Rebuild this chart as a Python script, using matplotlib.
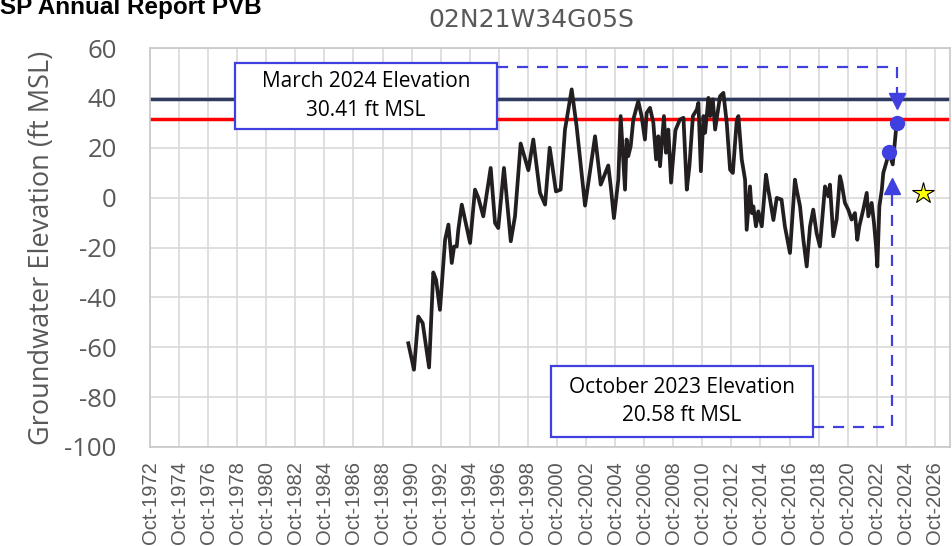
import datetime as dt
import matplotlib
matplotlib.use("Agg")
import matplotlib.pyplot as plt
import matplotlib.dates as mdates
from matplotlib.patches import Rectangle

plt.rcParams["axes.unicode_minus"] = False

# groundwater elevation (decimal year, ft MSL)
years = [1990.52, 1990.91, 1991.21, 1991.51, 1991.95, 1992.24, 1992.43, 1992.70,
         1993.05, 1993.28, 1993.51, 1993.67, 1993.85, 1993.96, 1994.20, 1994.77,
         1995.11, 1995.34, 1995.68, 1996.19, 1996.49, 1996.71, 1997.10, 1997.57,
         1997.86, 1998.25, 1998.78, 1999.12, 1999.58, 1999.93, 2000.25, 2000.68,
         2001.00, 2001.30, 2001.76, 2002.10, 2002.68, 2003.37, 2003.76, 2003.99,
         2004.28, 2004.45, 2004.67, 2004.97, 2005.13, 2005.43, 2005.54, 2005.65,
         2005.82, 2006.00, 2006.34, 2006.57, 2006.80, 2006.92, 2007.15, 2007.38,
         2007.57, 2007.72, 2007.84, 2008.11, 2008.25, 2008.41, 2008.60, 2008.90,
         2009.20, 2009.45, 2009.68, 2009.86, 2010.10, 2010.37, 2010.48, 2010.65,
         2010.83, 2010.94, 2011.17, 2011.29, 2011.47, 2011.63, 2011.97, 2012.20,
         2012.43, 2012.66, 2012.85, 2013.12, 2013.23, 2013.46, 2013.69, 2013.80,
         2014.03, 2014.15, 2014.26, 2014.44, 2014.60, 2014.84, 2015.13, 2015.29,
         2015.41, 2015.64, 2015.87, 2016.20, 2016.43, 2016.78, 2017.12, 2017.24,
         2017.47, 2017.70, 2017.93, 2018.16, 2018.38, 2018.61, 2018.84, 2019.19,
         2019.42, 2019.53, 2019.76, 2019.99, 2020.22, 2020.33, 2020.56, 2020.79,
         2021.02, 2021.25, 2021.41, 2021.55, 2021.82, 2022.06, 2022.17, 2022.40,
         2022.56, 2022.70, 2022.79, 2022.93, 2023.10, 2023.20, 2023.40, 2023.60,
         2023.85, 2024.12]
elev = [-58.4, -69.0, -47.7, -50.3, -68.1, -30.0, -32.9, -45.0,
        -16.9, -10.8, -26.2, -19.6, -19.6, -12.9, -2.8, -18.2,
        3.2, -0.1, -7.5, 11.9, -10.2, -12.2, 11.9, -17.5,
        -7.5, 21.7, 11.0, 23.3, 1.9, -2.8, 20.0, 2.5,
        3.2, 27.3, 43.4, 28.6, -3.2, 24.6, 5.2, 8.6,
        12.9, 4.5, -8.2, 7.2, 32.7, 3.2, 23.3, 16.6,
        20.6, 31.3, 38.7, 32.7, 23.3, 34.0, 36.0, 30.0,
        15.3, 24.6, 12.6, 32.7, 18.0, 27.3, 6.0, 27.0,
        31.3, 32.0, 3.2, 12.6, 32.7, 35.3, 38.0, 10.6,
        32.7, 26.0, 40.0, 32.7, 39.4, 27.3, 40.7, 42.0,
        30.0, 11.2, 9.9, 31.3, 32.7, 15.3, 7.2, -12.9,
        4.5, -6.2, -3.5, -11.5, -5.5, -11.5, 9.2, 3.2,
        -0.8, -9.0, -0.1, -0.8, -11.5, -22.2, 7.2, 3.2,
        -3.5, -16.9, -27.6, -11.5, -4.8, -14.2, -19.6, 4.5,
        0.5, 5.2, -15.5, -8.8, 8.6, 5.9, -2.1, -4.8,
        -8.8, -6.2, -16.9, -11.5, -4.8, 1.9, -7.5, -2.1,
        -10.2, -19.6, -27.6, -3.5, 3.2, 9.9, 13.9, 18.2,
        13.3, 30.0]

# highlighted measurements (Oct 2023, Mar 2024)
pt_years = [2023.60, 2024.12]
pt_elev = [18.2, 30.0]

# thresholds
upper_level = 39.4
lower_level = 31.6

# star marker
star_year = 2025.93
star_elev = 1.9

# annotation leader lines (decimal year, elevation)
top_leader_x = [1996.62, 2024.12, 2024.12]
top_leader_y = [52.2, 52.2, 42.0]
top_arrow = (2024.12, 38.8)
bot_leader_x = [2018.36, 2023.82, 2023.82]
bot_leader_y = [-92.0, -92.0, 2.0]
bot_arrow = (2023.82, 4.8)

tick_years = list(range(1972, 2027, 2))


def to_date(y):
    yr = int(y)
    return dt.datetime(yr, 1, 1) + dt.timedelta(days=(y - yr) * 365.25)


gray = "#595959"
grid = "#D9D9D9"
blue = "#4040E0"

fig = plt.figure(figsize=(9.52, 5.46), dpi=100)
ax = fig.add_axes([150 / 952, 99 / 546, 800 / 952, 399 / 546])

ax.set_xlim(to_date(1972.75), to_date(2027.79))
ax.set_ylim(-100, 60)
ax.set_yticks(range(-100, 61, 20))
ax.set_xticks([dt.datetime(y, 10, 1) for y in tick_years])
ax.xaxis.set_major_formatter(mdates.DateFormatter("%b-%Y"))
ax.grid(True, color=grid, linewidth=1.2, zorder=0)
ax.set_axisbelow(True)
for s in ax.spines.values():
    s.set_color("#C8C8C8")
    s.set_linewidth(1.2)

ax.tick_params(axis="y", length=0, pad=24, labelsize=18.5, labelcolor=gray)
ax.tick_params(axis="x", length=0, pad=10, labelsize=14.5, labelcolor=gray,
               labelrotation=90)
for lbl in ax.get_yticklabels():
    lbl.set_family("Open Sans")
for lbl in ax.get_xticklabels():
    lbl.set_family("Liberation Sans")

ax.set_ylabel("Groundwater Elevation (ft MSL)", fontsize=19.5, color=gray,
              family="Open Sans", labelpad=6)

ax.axhline(upper_level, color="#2F3B5E", linewidth=2.5, zorder=2)
ax.axhline(lower_level, color="#FF0000", linewidth=2.5, zorder=2)

ax.plot([to_date(y) for y in years], elev, color="#231F20", linewidth=2.7,
        zorder=3, solid_joinstyle="round")

ax.plot([to_date(y) for y in top_leader_x], top_leader_y, color=blue,
        linewidth=1.6, dashes=(5, 4), zorder=4)
ax.plot([to_date(y) for y in bot_leader_x], bot_leader_y, color=blue,
        linewidth=1.6, dashes=(5, 4), zorder=4)
ax.plot(to_date(top_arrow[0]), top_arrow[1], marker="v", markersize=11,
        color=blue, zorder=5)
ax.plot(to_date(bot_arrow[0]), bot_arrow[1], marker="^", markersize=11,
        color=blue, zorder=5)

ax.plot([to_date(y) for y in pt_years], pt_elev, linestyle="none", marker="o",
        markersize=10, color=blue, zorder=6)
ax.plot(to_date(star_year), star_elev, linestyle="none", marker="*",
        markersize=16, markerfacecolor="#FFFF00", markeredgecolor="black",
        markeredgewidth=0.8, zorder=6)

# callout boxes
ax.add_patch(Rectangle((0.1063, 0.797), 0.3275, 0.165, transform=ax.transAxes,
                       facecolor="white", edgecolor=blue, linewidth=1.6,
                       zorder=7))
ax.text(0.27, 0.8795, "March 2024 Elevation\n30.41 ft MSL", transform=ax.transAxes,
        ha="center", va="center", fontsize=15, family="Open Sans",
        linespacing=1.45, zorder=8)
ax.add_patch(Rectangle((0.5013, 0.0251), 0.3275, 0.178, transform=ax.transAxes,
                       facecolor="white", edgecolor=blue, linewidth=1.6,
                       zorder=7))
ax.text(0.665, 0.114, "October 2023 Elevation\n20.58 ft MSL", transform=ax.transAxes,
        ha="center", va="center", fontsize=15, family="Open Sans",
        linespacing=1.45, zorder=8)

fig.text(-19 / 952, 1 - 14 / 546, "GSP Annual Report PVB", ha="left",
         va="baseline", fontsize=17.5, fontweight="bold",
         family="Liberation Sans", color="black")
fig.text(531 / 952, 1 - 20 / 546, "02N21W34G05S", ha="center", va="center",
         fontsize=18, color=gray, family="DejaVu Sans")

fig.savefig("out.png", dpi=100)
